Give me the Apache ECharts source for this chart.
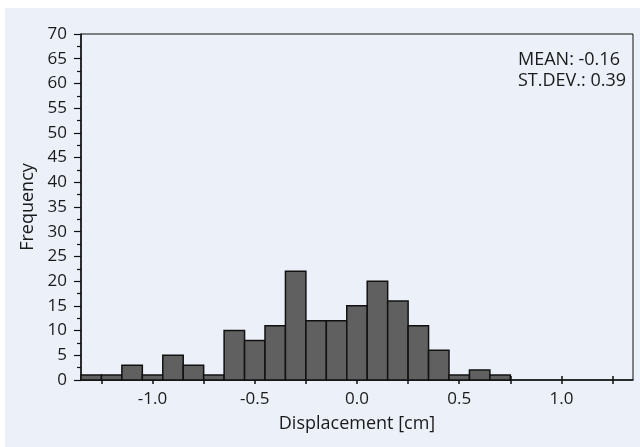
<!DOCTYPE html>
<html>
<head>
<meta charset="utf-8">
<script src="https://cdn.jsdelivr.net/npm/echarts@6/dist/echarts.min.js"></script>
<style>
html,body{margin:0;padding:0;background:#fff;}
#chart{width:640px;height:447px;}
</style>
</head>
<body>
<div id="chart"></div>
<script>
// Histogram of displacement (bin width 0.1 cm)
var binCenters = [-1.3, -1.2, -1.1, -1.0, -0.9, -0.8, -0.7, -0.6, -0.5, -0.4, -0.3, -0.2, -0.1, 0.0, 0.1, 0.2, 0.3, 0.4, 0.5, 0.6, 0.7];
var counts     = [1, 1, 3, 1, 5, 3, 1, 10, 8, 11, 22, 12, 12, 15, 20, 16, 11, 6, 1, 2, 1];
var binWidth = 0.1;
var xTickValues = [-1.25, -1.0, -0.75, -0.5, -0.25, 0.0, 0.25, 0.5, 0.75, 1.0, 1.25];
var xLabelValues = [-1.0, -0.5, 0.0, 0.5, 1.0];
var statsLines = ['MEAN: -0.16', 'ST.DEV.: 0.39'];

var FONT = 'Open Sans';
var TXT = '#1a1a1a';

var data = binCenters.map(function (c, i) { return [c - binWidth / 2, c + binWidth / 2, counts[i]]; });

var chart = echarts.init(document.getElementById('chart'), null, {renderer: 'canvas'});
chart.setOption({
  backgroundColor: '#ffffff',
  animation: false,
  textStyle: {fontFamily: FONT},
  graphic: [
    {type: 'rect', left: 5, top: 8, z: -10, shape: {width: 635, height: 439}, style: {fill: '#ECF0F9'}},
    {type: 'text', left: 518, top: 49, z: 10, style: {text: statsLines.join('\n'), font: '18px "' + FONT + '"', fill: TXT, lineHeight: 21}}
  ],
  grid: {left: 81, top: 34, right: 7, bottom: 67, show: true, borderColor: '#111', borderWidth: 1, backgroundColor: 'transparent'},
  xAxis: [{
    type: 'value', min: -1.35, max: 1.35,
    name: 'Displacement [cm]', nameLocation: 'middle', nameGap: 35,
    nameTextStyle: {color: TXT, fontSize: 18, fontFamily: FONT},
    axisLine: {show: true, onZero: false, lineStyle: {color: '#111', width: 1.5}},
    axisTick: {show: true, length: 4, customValues: xTickValues, lineStyle: {color: '#111', width: 1.5}},
    axisLabel: {show: true, customValues: xLabelValues, margin: 11, color: TXT, fontSize: 17, fontFamily: FONT,
      formatter: function (v) { return v.toFixed(1); }},
    splitLine: {show: false}
  }, {
    type: 'value', min: -1.35, max: 1.35, position: 'bottom',
    axisLine: {show: false, onZero: false},
    axisTick: {show: true, inside: true, length: 4, customValues: xTickValues, lineStyle: {color: '#111', width: 1.5}},
    axisLabel: {show: false},
    splitLine: {show: false}
  }],
  yAxis: {
    type: 'value', min: 0, max: 70, interval: 5,
    name: 'Frequency', nameLocation: 'middle', nameGap: 38,
    nameTextStyle: {color: TXT, fontSize: 18, fontFamily: FONT},
    axisLine: {show: true, onZero: false, lineStyle: {color: '#111', width: 1.5}},
    axisTick: {show: true, length: 7, lineStyle: {color: '#111', width: 1.2}},
    minorTick: {show: true, splitNumber: 2, length: 4, lineStyle: {color: '#111', width: 1.2}},
    axisLabel: {margin: 14, color: TXT, fontSize: 17, fontFamily: FONT},
    splitLine: {show: false}
  },
  series: [{
    type: 'custom',
    xAxisIndex: 0,
    encode: {x: [0, 1], y: 2},
    data: data,
    renderItem: function (params, api) {
      var p0 = api.coord([api.value(0), api.value(2)]);
      var p1 = api.coord([api.value(1), 0]);
      return {
        type: 'rect',
        shape: {x: p0[0], y: p0[1], width: p1[0] - p0[0], height: p1[1] - p0[1]},
        style: {fill: '#606060', stroke: '#111', lineWidth: 1.5}
      };
    }
  }]
});
</script>
</body>
</html>
